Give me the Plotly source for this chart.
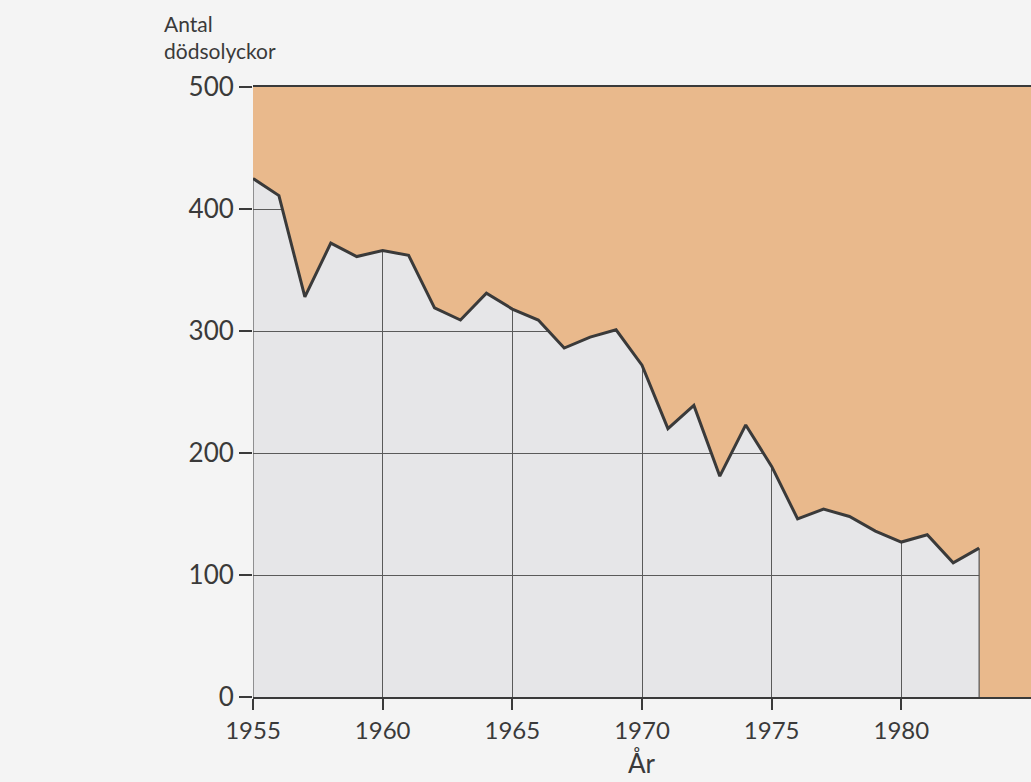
import plotly.graph_objects as go

years = list(range(1955, 1984))
deaths = [425, 411, 328, 372, 361, 366, 362, 319, 309, 331, 318, 309, 286, 295, 301,
          272, 220, 239, 181, 223, 189, 146, 154, 148, 136, 127, 133, 110, 122]

x_ticks = [1955, 1960, 1965, 1970, 1975, 1980]
y_ticks = [0, 100, 200, 300, 400, 500]
x_range = [1955, 1985]
y_range = [0, 500]

ORANGE = "#e9b98c"
GRAY = "#e6e6e8"
PAPER = "#f4f4f4"
INK = "#3a3a3a"
FONT = "Lato"

fig = go.Figure()

# Orange region above the curve and right of the last year
fig.add_trace(go.Scatter(
    x=years + [years[-1], x_range[1], x_range[1], years[0]],
    y=deaths + [y_range[0], y_range[0], y_range[1], y_range[1]],
    fill="toself", fillcolor=ORANGE, mode="lines", line=dict(width=0),
    hoverinfo="skip", showlegend=False))

# Edges of the grey region at first and last year
fig.add_trace(go.Scatter(
    x=[years[0], years[0], None, years[-1], years[-1]],
    y=[0, deaths[0], None, 0, deaths[-1]],
    mode="lines", line=dict(color="#555555", width=1.2),
    hoverinfo="skip", showlegend=False))

# Data line
fig.add_trace(go.Scatter(
    x=years, y=deaths, mode="lines",
    line=dict(color=INK, width=3), showlegend=False))

fig.update_layout(
    width=1031, height=782,
    margin=dict(l=253, r=0, t=87, b=85),
    paper_bgcolor=PAPER, plot_bgcolor=GRAY,
    font=dict(family=FONT, color=INK, size=25),
    xaxis=dict(range=x_range, tickvals=x_ticks, ticks="outside", ticklen=11,
               tickwidth=1.5, tickcolor=INK, showgrid=True, gridcolor="#5a5a5a",
               gridwidth=1, showline=True, linecolor=INK, linewidth=1.5,
               mirror=True, zeroline=False, tickfont=dict(size=24, color=INK)),
    yaxis=dict(range=y_range, tickvals=y_ticks, ticks="outside", ticklen=13,
               tickwidth=1.5, tickcolor=INK, showgrid=True, gridcolor="#5a5a5a",
               gridwidth=1, showline=False, zeroline=False,
               tickfont=dict(size=26, color=INK)),
    annotations=[
        dict(text="Antal<br>dödsolyckor", xref="paper", yref="paper",
             x=-0.117, y=1, xanchor="left", yanchor="bottom", yshift=22,
             align="left", showarrow=False, font=dict(size=21, color=INK)),
        dict(text="År", xref="x", yref="paper", x=1970, y=0,
             xanchor="center", yanchor="top", yshift=-48,
             showarrow=False, font=dict(size=26, color=INK)),
    ],
)

fig.write_html(
    "out.html",
    config={"displayModeBar": False},
    post_script="document.body.style.margin='0';document.body.style.overflow='hidden';"
                "document.body.style.background='#f4f4f4';")
